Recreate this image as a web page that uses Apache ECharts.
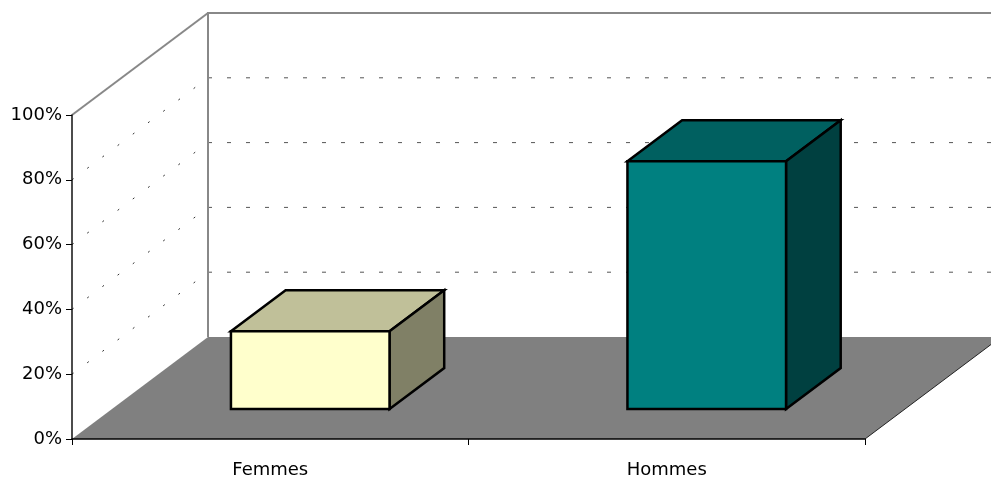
<!DOCTYPE html>
<html><head><meta charset="utf-8">
<script src="https://cdn.jsdelivr.net/npm/echarts@6/dist/echarts.min.js"></script>
<style>html,body{margin:0;padding:0;background:#fff}#c{width:991px;height:484px}</style>
</head><body><div id="c"></div>
<script>
const categories = ['Femmes', 'Hommes'];
const values = [24, 76.5];
const yTicks = [0, 20, 40, 60, 80, 100];

// styles / projection constants
const DEPTH = [136, -102];
const F0 = 0.294, F1 = 0.696, BAR_W = 0.4;
const faceColors = [
  { front: '#FFFFCC', top: '#C0C099', side: '#808066' },
  { front: '#008080', top: '#006060', side: '#004040' }
];
const FONT = '"Comic Sans MS", "DejaVu Sans", sans-serif';

function renderWalls(params, api) {
  const cs = params.coordSys;
  const L = cs.x, R = cs.x + cs.width;
  const y0 = api.coord([0, yTicks[0]])[1];
  const yTop = api.coord([0, yTicks[yTicks.length - 1]])[1];
  const dx = DEPTH[0], dy = DEPTH[1];
  const ch = [];
  ch.push({ type: 'polygon', shape: { points: [[L, y0], [R, y0], [R + dx, y0 + dy], [L + dx, y0 + dy]] }, style: { fill: '#808080' } });
  ch.push({ type: 'line', shape: { x1: R, y1: y0, x2: R + dx, y2: y0 + dy }, style: { stroke: '#222', lineWidth: 1 } });
  yTicks.slice(1, -1).forEach(v => {
    const y = api.coord([0, v])[1];
    ch.push({ type: 'line', shape: { x1: L, y1: y, x2: L + dx, y2: y + dy }, style: { stroke: '#333', lineWidth: 1, lineDash: [2, 17] } });
    ch.push({ type: 'line', shape: { x1: L + dx, y1: y + dy, x2: R + dx, y2: y + dy }, style: { stroke: '#555', lineWidth: 1, lineDash: [4, 15] } });
  });
  ch.push({ type: 'polyline', shape: { points: [[L + dx, y0 + dy], [L + dx, yTop + dy], [R + dx + 20, yTop + dy]] }, style: { stroke: '#888', lineWidth: 2, fill: null } });
  ch.push({ type: 'line', shape: { x1: L, y1: yTop, x2: L + dx, y2: yTop + dy }, style: { stroke: '#888', lineWidth: 2 } });
  return { type: 'group', children: ch };
}

function renderBar(params, api) {
  const i = api.value(0), v = api.value(1);
  const base = api.coord([i, 0]);
  const top = api.coord([i, v]);
  const bw = api.size([1, 0])[0];
  const hw = bw * BAR_W / 2;
  const dx = DEPTH[0], dy = DEPTH[1];
  const ox = dx * F0, oy = dy * F0;
  const ex = dx * (F1 - F0), ey = dy * (F1 - F0);
  const x1 = base[0] - hw + ox, x2 = base[0] + hw + ox;
  const yb = base[1] + oy, yt = top[1] + oy;
  const c = faceColors[params.dataIndex];
  const st = (fill) => ({ fill: fill, stroke: '#000', lineWidth: 2.5, lineJoin: 'miter' });
  return {
    type: 'group', children: [
      { type: 'polygon', shape: { points: [[x1, yt], [x1 + ex, yt + ey], [x2 + ex, yt + ey], [x2, yt]] }, style: st(c.top) },
      { type: 'polygon', shape: { points: [[x2, yt], [x2 + ex, yt + ey], [x2 + ex, yb + ey], [x2, yb]] }, style: st(c.side) },
      { type: 'polygon', shape: { points: [[x1, yt], [x2, yt], [x2, yb], [x1, yb]] }, style: st(c.front) }
    ]
  };
}

const chart = echarts.init(document.getElementById('c'), null, { renderer: 'canvas' });
chart.setOption({
  animation: false,
  backgroundColor: '#fff',
  grid: { left: 72, right: 126, top: 115, bottom: 45, containLabel: false },
  xAxis: {
    type: 'category', data: categories, boundaryGap: true, z: 10,
    axisLine: { lineStyle: { color: '#000', width: 1.5 } },
    axisTick: { show: true, length: 6, lineStyle: { color: '#000' } },
    axisLabel: { color: '#000', fontSize: 18, fontFamily: FONT, margin: 22 },
    splitLine: { show: false }
  },
  yAxis: {
    type: 'value', min: yTicks[0], max: yTicks[yTicks.length - 1], interval: 20, z: 10,
    axisLine: { show: true, lineStyle: { color: '#111', width: 1.5 } },
    axisTick: { show: true, length: 6, lineStyle: { color: '#000' } },
    axisLabel: { color: '#000', fontSize: 18, fontFamily: FONT, margin: 10, formatter: '{value}%' },
    splitLine: { show: false }
  },
  series: [
    { type: 'custom', z: 1, silent: true, renderItem: renderWalls, data: [[0, 0]] },
    { type: 'custom', z: 3, renderItem: renderBar, data: values.map((v, i) => [i, v]) }
  ]
});
</script>
</body></html>
